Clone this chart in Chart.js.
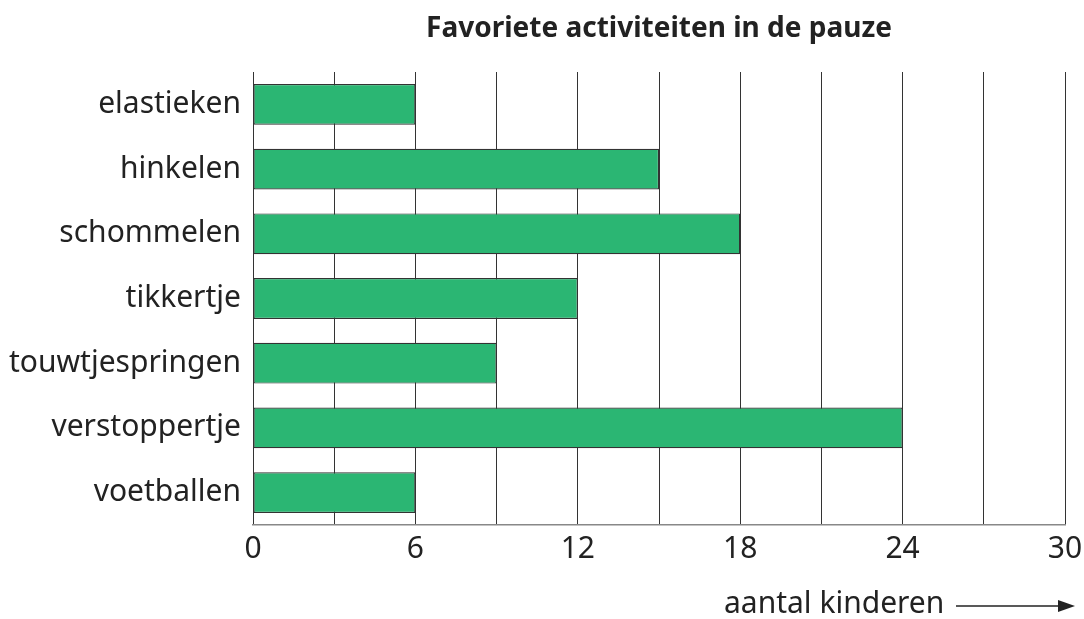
<!DOCTYPE html>
<html>
<head>
<meta charset="utf-8">
<script src="https://cdn.jsdelivr.net/npm/chart.js@4"></script>
<style>
  html, body { margin: 0; padding: 0; background: #fff; }
  #wrap { width: 1084px; height: 619px; }
</style>
</head>
<body>
<div id="wrap"><canvas id="chart"></canvas></div>
<script>
// data
const activities = ["elastieken", "hinkelen", "schommelen", "tikkertje", "touwtjespringen", "verstoppertje", "voetballen"];
const children = [6, 15, 18, 12, 9, 24, 6];
const chartTitle = "Favoriete activiteiten in de pauze";
const axisLabel = "aantal kinderen";

const FONT = "'Noto Sans', sans-serif";
const TEXT = "#222";

// title centred on the plot area + axis caption with arrow
const extras = {
  id: "extras",
  afterDraw(chart) {
    const ctx = chart.ctx;
    const area = chart.chartArea;
    ctx.save();
    ctx.fillStyle = TEXT;
    ctx.font = "bold 28px " + FONT;
    ctx.textAlign = "center";
    ctx.textBaseline = "middle";
    ctx.fillText(chartTitle, (area.left + area.right) / 2, 29);

    ctx.font = "30px " + FONT;
    ctx.textAlign = "left";
    ctx.fillText(axisLabel, 724, 604);

    // arrow
    ctx.strokeStyle = TEXT;
    ctx.lineWidth = 1.5;
    ctx.beginPath();
    ctx.moveTo(956, 606);
    ctx.lineTo(1062, 606);
    ctx.stroke();
    ctx.beginPath();
    ctx.moveTo(1075, 606);
    ctx.lineTo(1058, 600);
    ctx.lineTo(1058, 612);
    ctx.closePath();
    ctx.fill();
    ctx.restore();
  }
};

const ctx = document.getElementById("chart").getContext("2d");
new Chart(ctx, {
  type: "bar",
  data: {
    labels: activities,
    datasets: [{
      data: children,
      backgroundColor: "#2bb673",
      borderColor: "#333",
      borderWidth: 1.2,
      borderSkipped: false,
      barPercentage: 0.9,
      categoryPercentage: 0.7
    }]
  },
  options: {
    indexAxis: "y",
    responsive: true,
    maintainAspectRatio: false,
    animation: false,
    layout: { padding: { left: 0, right: 19, top: 72, bottom: 44 } },
    plugins: {
      legend: { display: false },
      tooltip: { enabled: false }
    },
    scales: {
      x: {
        min: 0,
        max: 30,
        afterFit(scale) {
          scale.height = 50;
          scale.paddingRight = 0;
          scale.paddingLeft = 0;
        },
        ticks: {
          stepSize: 3,
          autoSkip: false,
          maxRotation: 0,
          color: TEXT,
          font: { family: FONT, size: 30 },
          padding: 6,
          callback: v => (v % 6 === 0 ? v : "")
        },
        grid: { color: "#333", lineWidth: 1, drawTicks: false },
        border: { color: "#888", width: 1.5 }
      },
      y: {
        afterFit(scale) { scale.width = 253; },
        ticks: {
          color: TEXT,
          font: { family: FONT, size: 30 },
          padding: 12
        },
        grid: { display: false, drawTicks: false },
        border: { display: false }
      }
    }
  },
  plugins: [extras]
});
</script>
</body>
</html>
